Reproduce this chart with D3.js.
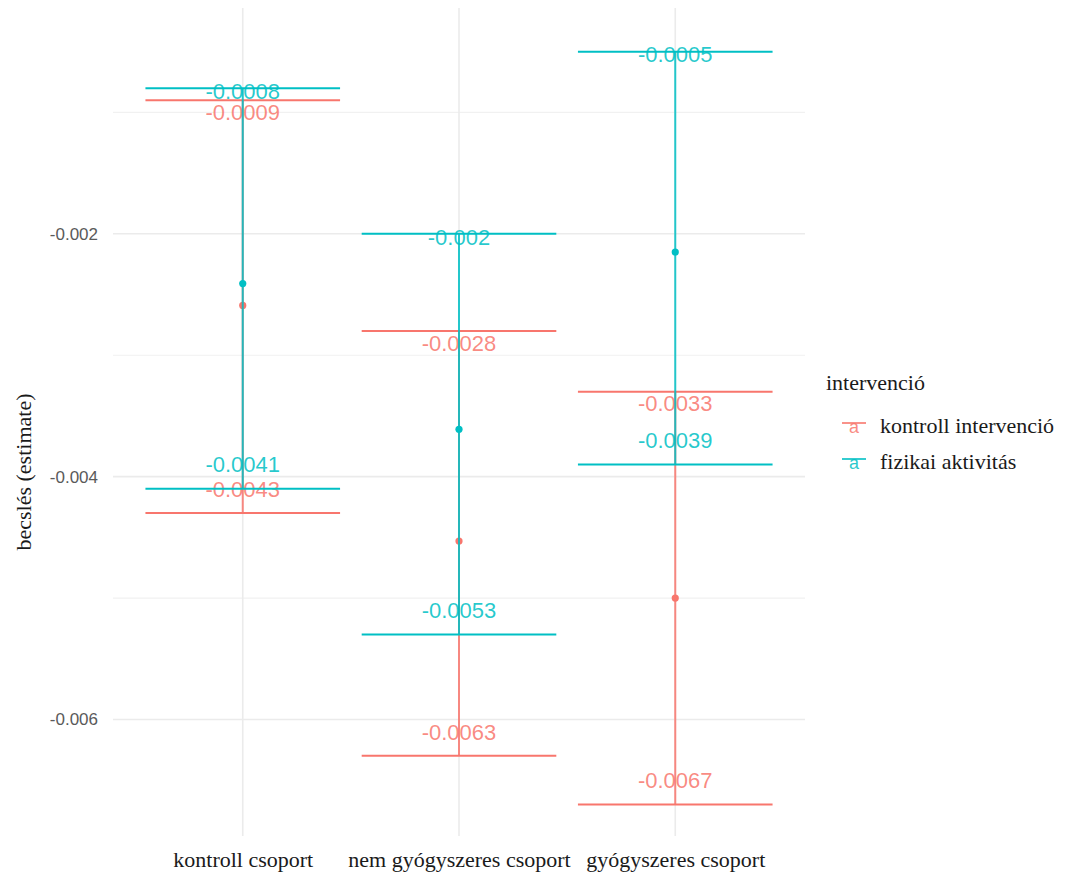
<!DOCTYPE html>
<html>
<head>
<meta charset="utf-8">
<script src="https://cdn.jsdelivr.net/npm/d3@7"></script>
<style>
  html, body { margin: 0; padding: 0; background: #fff; }
  svg { display: block; }
</style>
</head>
<body>
<svg id="chart" width="1078" height="881"></svg>
<script>
// Groups on the x axis
const groups = ["kontroll csoport", "nem gyógyszeres csoport", "gyógyszeres csoport"];
// Intervention series (legend order)
const series = ["kontroll intervenció", "fizikai aktivitás"];
const seriesColors = ["#F8766D", "#00BFC4"];

// Point estimates per group, one array per series
const estKontroll = [-0.00259, -0.00453, -0.00500];
const estFizikai  = [-0.00241, -0.00361, -0.00215];
// Confidence interval bounds per group
const lowKontroll  = [-0.0043, -0.0063, -0.0067];
const highKontroll = [-0.0009, -0.0028, -0.0033];
const lowFizikai   = [-0.0041, -0.0053, -0.0039];
const highFizikai  = [-0.0008, -0.002, -0.0005];

// Y axis ticks (major labelled, minor unlabelled)
const yTicks = [-0.002, -0.004, -0.006];
const yMinorTicks = [-0.001, -0.003, -0.005];

const yTitle = "becslés (estimate)";
const legendTitle = "intervenció";

const SERIF = "'Liberation Serif', 'Times New Roman', serif";
const SANS = "'Liberation Sans', Arial, sans-serif";

const rows = [];
groups.forEach((g, i) => {
  rows.push({ group: g, s: 0, est: estKontroll[i], low: lowKontroll[i], high: highKontroll[i] });
});
groups.forEach((g, i) => {
  rows.push({ group: g, s: 1, est: estFizikai[i], low: lowFizikai[i], high: highFizikai[i] });
});

const svg = d3.select("#chart");
const panel = { left: 113, right: 805, top: 8, bottom: 836 };

const x = d3.scalePoint().domain(groups).range([panel.left, panel.right]).padding(0.6);
const y = d3.scaleLinear().domain([-0.00696, -0.00014]).range([panel.bottom, panel.top]);
const capHalf = x.step() * 0.45;

// label offsets (px) from the interval ends, per series
const upperNudge = [12, 3];
const lowerNudge = -24;

// grid
const grid = svg.append("g");
grid.selectAll(".minor").data(yMinorTicks).join("line")
  .attr("x1", panel.left).attr("x2", panel.right)
  .attr("y1", d => y(d)).attr("y2", d => y(d))
  .attr("stroke", "#F1F1F1").attr("stroke-width", 1.2);
grid.selectAll(".major").data(yTicks).join("line")
  .attr("x1", panel.left).attr("x2", panel.right)
  .attr("y1", d => y(d)).attr("y2", d => y(d))
  .attr("stroke", "#EBEBEB").attr("stroke-width", 1.6);
grid.selectAll(".vx").data(groups).join("line")
  .attr("x1", d => x(d)).attr("x2", d => x(d))
  .attr("y1", panel.top).attr("y2", panel.bottom)
  .attr("stroke", "#EBEBEB").attr("stroke-width", 1.6);

// y axis labels
const yAxis = d3.axisLeft(y).tickValues(yTicks).tickSize(0).tickPadding(0)
  .tickFormat(d => String(d));
const yg = svg.append("g").attr("transform", `translate(98,0)`).call(yAxis);
yg.select(".domain").remove();
yg.selectAll("text").style("font-family", SANS)
  .style("font-size", "17px").attr("fill", "#5a5a5a");

// x axis labels
const xAxis = d3.axisBottom(x).tickSize(0).tickPadding(0);
const xg = svg.append("g").attr("transform", `translate(0,851)`).call(xAxis);
xg.select(".domain").remove();
xg.selectAll("text").style("font-family", SERIF)
  .style("font-size", "22px").attr("fill", "#1a1a1a").attr("dy", "0.71em");

// y title
svg.append("text")
  .attr("transform", `translate(31,472) rotate(-90)`)
  .attr("text-anchor", "middle")
  .style("font-family", SERIF).style("font-size", "22px")
  .attr("fill", "#1a1a1a")
  .text(yTitle);

// error bars, points and value labels, series drawn in order
series.forEach((sName, si) => {
  const col = seriesColors[si];
  const data = rows.filter(r => r.s === si);
  const g = svg.append("g");
  g.selectAll(".vline").data(data).join("line")
    .attr("x1", d => x(d.group)).attr("x2", d => x(d.group))
    .attr("y1", d => y(d.low)).attr("y2", d => y(d.high))
    .attr("stroke", col).attr("stroke-width", 2).attr("stroke-opacity", 0.85);
  g.selectAll(".capL").data(data).join("line")
    .attr("x1", d => x(d.group) - capHalf).attr("x2", d => x(d.group) + capHalf)
    .attr("y1", d => y(d.low)).attr("y2", d => y(d.low))
    .attr("stroke", col).attr("stroke-width", 2);
  g.selectAll(".capH").data(data).join("line")
    .attr("x1", d => x(d.group) - capHalf).attr("x2", d => x(d.group) + capHalf)
    .attr("y1", d => y(d.high)).attr("y2", d => y(d.high))
    .attr("stroke", col).attr("stroke-width", 2);
  g.selectAll(".pt").data(data).join("circle")
    .attr("cx", d => x(d.group)).attr("cy", d => y(d.est))
    .attr("r", 3.6).attr("fill", col);
  const lab = g.append("g")
    .style("font-family", SANS).style("font-size", "22px")
    .attr("fill", col).attr("fill-opacity", 0.85)
    .attr("text-anchor", "middle");
  lab.selectAll(".lh").data(data).join("text")
    .attr("x", d => x(d.group)).attr("y", d => y(d.high) + upperNudge[si])
    .attr("dy", "0.35em").text(d => String(d.high));
  lab.selectAll(".ll").data(data).join("text")
    .attr("x", d => x(d.group)).attr("y", d => y(d.low) + lowerNudge)
    .attr("dy", "0.35em").text(d => String(d.low));
});

// legend
const leg = svg.append("g").attr("transform", "translate(826,0)");
leg.append("text").attr("x", 0).attr("y", 390)
  .style("font-family", SERIF).style("font-size", "22px")
  .attr("fill", "#1a1a1a").text(legendTitle);
series.forEach((sName, si) => {
  const cy = 426 + si * 36;
  const col = seriesColors[si];
  leg.append("line").attr("x1", 16).attr("x2", 40).attr("y1", cy - 3).attr("y2", cy - 3)
    .attr("stroke", col).attr("stroke-width", 1.6);
  leg.append("text").attr("x", 28).attr("y", cy + 7).attr("text-anchor", "middle")
    .style("font-family", SANS).style("font-size", "18px")
    .attr("fill", col).attr("fill-opacity", 0.85).text("a");
  leg.append("text").attr("x", 54).attr("y", cy + 7)
    .style("font-family", SERIF).style("font-size", "22px")
    .attr("fill", "#1a1a1a").text(sName);
});
</script>
</body>
</html>
